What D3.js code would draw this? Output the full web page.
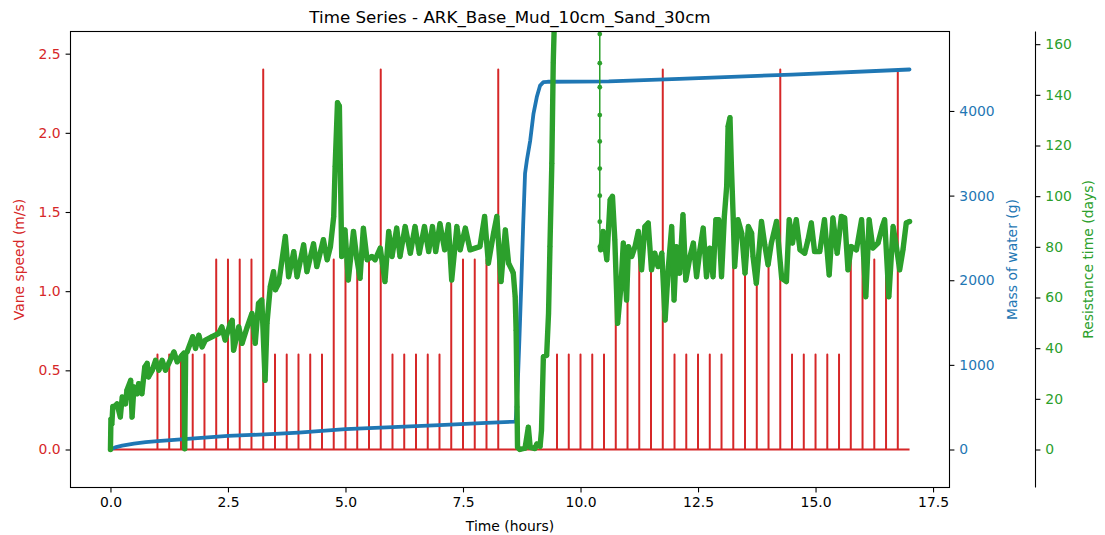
<!DOCTYPE html>
<html>
<head>
    <meta charset="utf-8">
    <title>Time Series - ARK_Base_Mud_10cm_Sand_30cm</title>
    <script type="text/javascript" src="https://cdn.jsdelivr.net/npm/d3@7"></script>
    <style type="text/css">
        body { margin: 0; background: #fff; }
        svg { font-family: "DejaVu Sans", sans-serif; }
    </style>
</head>
<body>
<script type="text/javascript">
    // vane speed: 0 baseline with short pulses every quarter hour
    var vaneTimes = [1.0, 1.25, 1.5, 1.75, 2.0, 2.25, 2.5, 2.75, 3.0, 3.25,
        3.5, 3.75, 4.0, 4.25, 4.5, 4.75, 5.0, 5.25, 5.5, 5.75,
        6.0, 6.25, 6.5, 6.75, 7.0, 7.25, 7.5, 7.75, 8.0, 8.25,
        9.5, 9.75, 10.0, 10.25, 10.5, 10.75, 11.0, 11.25, 11.5, 11.75,
        12.0, 12.25, 12.5, 12.75, 13.0, 13.25, 13.5, 13.75, 14.0, 14.25,
        14.5, 14.75, 15.0, 15.25, 15.5, 15.75, 16.0, 16.25, 16.5, 16.75];
    var vaneSpeeds = [0.6, 0.6, 0.6, 0.6, 0.6, 1.2, 1.2, 1.2, 1.2, 2.4,
        0.6, 0.6, 0.6, 0.6, 0.6, 1.2, 1.2, 1.2, 1.2, 2.4,
        0.6, 0.6, 0.6, 0.6, 0.6, 1.2, 1.2, 1.2, 1.2, 2.4,
        0.6, 0.6, 0.6, 0.6, 0.6, 1.2, 1.2, 1.2, 1.2, 2.4,
        0.6, 0.6, 0.6, 0.6, 0.6, 1.2, 1.2, 1.2, 1.2, 2.4,
        0.6, 0.6, 0.6, 0.6, 0.6, 1.2, 1.2, 1.2, 1.2, 2.4];
    var vaneStart = 0, vaneEnd = 17;

    // mass of water (g)
    var massTimes = [0, 0.1, 0.25, 0.5, 0.75, 1.0, 1.5, 2.0, 2.5, 3.0, 3.5, 4.0, 5.0, 6.0, 7.0, 8.0, 8.62,
        8.66, 8.7, 8.74, 8.78, 8.82, 8.86, 8.93, 9.0, 9.07, 9.14, 9.21, 9.3, 10.6, 12.1, 14.5, 17.0];
    var massValues = [0, 25, 45, 70, 88, 100, 120, 140, 160, 172, 185, 200, 240, 265, 288, 315, 330,
        700, 1300, 1950, 2650, 3260, 3420, 3650, 3970, 4165, 4300, 4340, 4345, 4350, 4380, 4430, 4490];

    // resistance time (days) [hours, days]
    var resistance = [
        [0, 0], [0.01, 12], [0.03, 10], [0.05, 17], [0.07, 16.7], [0.14, 18], [0.21, 12.8], [0.25, 20.7],
        [0.32, 18], [0.35, 23.4], [0.43, 27.3], [0.46, 12.8], [0.50, 24.7], [0.57, 22], [0.60, 26],
        [0.67, 22], [0.73, 32.6], [0.78, 34], [0.81, 28.6], [0.89, 31.3], [0.96, 35.2], [1.03, 31.3],
        [1.10, 35.2], [1.17, 31.3], [1.24, 34], [1.35, 38.5], [1.42, 34.6], [1.52, 37.2], [1.56, 38],
        [1.58, 0.3], [1.60, 38], [1.63, 38.5], [1.75, 44.5], [1.81, 39.9], [1.88, 45.1], [1.95, 40.5],
        [2.02, 43.2], [2.16, 44.5], [2.30, 45.8], [2.37, 48.4], [2.44, 43.2], [2.55, 49.8], [2.59, 51],
        [2.62, 39.2], [2.73, 48.4], [2.80, 41.9], [2.91, 48.4], [3.01, 53.7], [3.08, 41.9], [3.15, 57.7],
        [3.22, 59], [3.29, 27.3], [3.33, 49.8], [3.40, 64.3], [3.47, 70.2], [3.51, 63], [3.58, 65.6],
        [3.72, 84.1], [3.79, 68.2], [3.90, 78.1], [3.97, 68.2], [4.11, 80.8], [4.18, 70.2], [4.32, 81.2],
        [4.39, 72.2], [4.53, 82.8], [4.61, 74.9], [4.68, 80.1], [4.75, 92], [4.78, 111.8], [4.83, 136.9],
        [4.87, 135.6], [4.89, 111.8], [4.92, 76.2], [4.99, 86.7], [5.06, 66.9], [5.17, 86.1], [5.24, 75.5],
        [5.31, 67.6], [5.38, 87.4], [5.46, 74.9], [5.56, 76.2], [5.63, 74.9], [5.74, 79.5], [5.84, 66.3],
        [5.92, 86.1], [5.99, 76.2], [6.09, 87.4], [6.16, 76.2], [6.27, 88], [6.38, 77.5], [6.48, 88],
        [6.57, 77.5], [6.68, 88], [6.77, 78.1], [6.85, 88], [6.92, 78.1], [7.01, 89.1], [7.11, 78.8],
        [7.19, 88.7], [7.26, 66.9], [7.37, 88], [7.44, 78.8], [7.55, 87.4], [7.65, 78.8], [7.76, 79.5],
        [7.86, 80.1], [7.96, 92], [8.04, 73.5], [8.15, 85.4], [8.22, 92], [8.31, 66.3], [8.40, 86.7],
        [8.47, 73.5], [8.54, 70.9], [8.57, 69.6], [8.61, 60.3], [8.63, 47.1], [8.64, 33.9], [8.65, 16.8],
        [8.66, 0.9], [8.71, 0], [8.82, 0.5], [8.89, 8.8], [8.93, 0.8], [9.03, 0.4], [9.07, 2.2],
        [9.14, 1.2], [9.17, 7.5], [9.21, 36.6], [9.28, 37.2], [9.32, 53.7], [9.35, 80.1], [9.39, 113],
        [9.42, 152.7], [9.46, 180],
        [10.41, 180], [10.41, 164], [10.41, 152.5], [10.41, 143], [10.41, 132], [10.41, 121.6],
        [10.41, 110.9], [10.41, 100.2], [10.41, 89.9],
        [10.42, 80.1], [10.43, 78.8], [10.48, 86.1], [10.56, 74.9], [10.63, 98.6], [10.68, 99.9],
        [10.73, 82.8], [10.79, 49.8], [10.86, 64.3], [10.91, 81.5], [10.98, 59], [11.02, 80.1],
        [11.09, 76.2], [11.16, 80.1], [11.23, 86.1], [11.30, 70.9], [11.37, 88], [11.44, 89.4],
        [11.51, 70.9], [11.58, 77.5], [11.65, 72.2], [11.73, 77.5], [11.80, 51.1], [11.87, 72.2],
        [11.94, 88], [11.99, 59], [12.04, 80.1], [12.11, 69.6], [12.18, 92.7], [12.24, 66.9],
        [12.33, 76.2], [12.40, 81.5], [12.47, 68.2], [12.54, 78.8], [12.61, 87.4], [12.68, 68.2],
        [12.75, 79.5], [12.82, 68.2], [12.88, 90.7], [12.94, 90.7], [13.00, 68.2], [13.06, 92],
        [13.11, 103.9], [13.14, 127.6], [13.18, 131], [13.21, 111.8], [13.25, 90.7], [13.28, 72.2],
        [13.35, 90.7], [13.43, 85.4], [13.50, 69.6], [13.57, 88], [13.64, 85.4], [13.67, 76.2],
        [13.74, 65.6], [13.85, 90], [13.92, 80.8], [13.99, 72.9], [14.06, 81.5], [14.17, 90],
        [14.28, 67.6], [14.38, 66.3], [14.44, 90.7], [14.51, 81.5], [14.59, 90.7], [14.67, 78.8],
        [14.77, 77.5], [14.84, 82.8], [14.91, 89.4], [14.98, 78.1], [15.09, 78.1], [15.19, 90.7],
        [15.29, 68.9], [15.37, 91.4], [15.46, 77.5], [15.55, 92], [15.62, 91.4], [15.69, 70.9],
        [15.76, 80.1], [15.87, 78.8], [15.98, 90.7], [16.07, 60.3], [16.14, 90.7], [16.22, 79.5],
        [16.33, 81.5], [16.42, 88], [16.47, 90.7], [16.56, 60.3], [16.65, 88], [16.72, 80.1],
        [16.79, 70.9], [16.86, 78.8], [16.93, 89.4], [17.00, 90]
    ];
    var dropTime = 10.41; // points along the fall back onto the chart

    var xTicks = [0, 2.5, 5, 7.5, 10, 12.5, 15, 17.5];
    var vaneTicks = [0, 0.5, 1.0, 1.5, 2.0, 2.5];
    var massTicks = [0, 1000, 2000, 3000, 4000];
    var resTicks = [0, 20, 40, 60, 80, 100, 120, 140, 160];

    var red = "#d62728", blue = "#1f77b4", green = "#2ca02c";
    var width = 1105, height = 535;
    var plotL = 70.5, plotR = 949.5, plotT = 31.5, plotB = 487.5;
    var fs = 13.9, tickLen = 4.9, tickPad = 4.9;

    var svg = d3.select("body").append("svg")
        .attr("width", width).attr("height", height);

    var x = d3.scaleLinear().domain([-0.85, 17.85]).range([plotL, plotR]);
    var yVane = d3.scaleLinear().domain([-0.24, 2.64]).range([plotB, plotT]);
    var yMass = d3.scaleLinear().domain([-449, 4939]).range([plotB, plotT]);
    var yRes = d3.scaleLinear().domain([-15, 165]).range([plotB, plotT]);

    svg.append("clipPath").attr("id", "plot")
        .append("rect").attr("x", plotL).attr("y", plotT)
        .attr("width", plotR - plotL).attr("height", plotB - plotT);

    var plot = svg.append("g").attr("clip-path", "url(#plot)");

    // red vane speed line
    var vanePts = [[vaneStart, 0]];
    vaneTimes.forEach(function (t, i) {
        vanePts.push([t, 0], [t, vaneSpeeds[i]], [t, 0]);
    });
    vanePts.push([vaneEnd, 0]);
    plot.append("path")
        .attr("d", d3.line().x(function (d) {return x(d[0]);}).y(function (d) {return yVane(d[1]);})(vanePts))
        .attr("fill", "none").attr("stroke", red).attr("stroke-width", 2)
        .attr("stroke-linejoin", "round");

    // blue mass line
    var massPts = massTimes.map(function (t, i) {return [t, massValues[i]];});
    plot.append("path")
        .attr("d", d3.line().x(function (d) {return x(d[0]);}).y(function (d) {return yMass(d[1]);})(massPts))
        .attr("fill", "none").attr("stroke", blue).attr("stroke-width", 3.8)
        .attr("stroke-linejoin", "round").attr("stroke-linecap", "round");

    // green resistance line, dense part thick, markers on every point
    var resLine = d3.line().x(function (d) {return x(d[0]);}).y(function (d) {return yRes(d[1]);});
    plot.append("path")
        .attr("d", resLine(resistance))
        .attr("fill", "none").attr("stroke", green).attr("stroke-width", 1.5);
    plot.append("path")
        .attr("d", resLine.defined(function (d) {return d[0] !== dropTime;})(resistance))
        .attr("fill", "none").attr("stroke", green).attr("stroke-width", 5.4)
        .attr("stroke-linejoin", "round").attr("stroke-linecap", "round");
    plot.selectAll("circle.res").data(resistance).enter().append("circle")
        .attr("class", "res")
        .attr("cx", function (d) {return x(d[0]);})
        .attr("cy", function (d) {return yRes(d[1]);})
        .attr("r", 2.4).attr("fill", green);

    // axes
    function style(g, color) {
        g.select(".domain").remove();
        g.selectAll(".tick line").attr("stroke", "#000").attr("stroke-width", 1.1);
        g.selectAll(".tick text").attr("fill", color).style("font-size", fs + "px")
            .style("font-family", "DejaVu Sans");
    }

    svg.append("g").attr("transform", "translate(0," + plotB + ")")
        .call(d3.axisBottom(x).tickValues(xTicks).tickFormat(d3.format(".1f"))
            .tickSize(tickLen).tickPadding(tickPad))
        .call(style, "#000");

    svg.append("g").attr("transform", "translate(" + plotL + ",0)")
        .call(d3.axisLeft(yVane).tickValues(vaneTicks).tickFormat(d3.format(".1f"))
            .tickSize(tickLen).tickPadding(tickPad))
        .call(style, red);

    svg.append("g").attr("transform", "translate(" + plotR + ",0)")
        .call(d3.axisRight(yMass).tickValues(massTicks).tickFormat(d3.format("d"))
            .tickSize(tickLen).tickPadding(tickPad))
        .call(style, blue);

    var third = 1035.5;
    svg.append("g").attr("transform", "translate(" + third + ",0)")
        .call(d3.axisRight(yRes).tickValues(resTicks).tickFormat(d3.format("d"))
            .tickSize(tickLen).tickPadding(tickPad))
        .call(style, green);

    // spines
    svg.append("rect").attr("x", plotL).attr("y", plotT)
        .attr("width", plotR - plotL).attr("height", plotB - plotT)
        .attr("fill", "none").attr("stroke", "#000").attr("stroke-width", 1.1);
    svg.append("line").attr("x1", third).attr("x2", third).attr("y1", plotT).attr("y2", plotB)
        .attr("stroke", "#000").attr("stroke-width", 1.1);

    // labels
    var midY = (plotT + plotB) / 2;
    svg.append("text").attr("x", (plotL + plotR) / 2).attr("y", 23)
        .attr("text-anchor", "middle").style("font-size", "16.7px")
        .text("Time Series - ARK_Base_Mud_10cm_Sand_30cm");
    svg.append("text").attr("x", (plotL + plotR) / 2).attr("y", 531)
        .attr("text-anchor", "middle").style("font-size", fs + "px")
        .text("Time (hours)");
    svg.append("text").attr("transform", "translate(19," + midY + ") rotate(-90)")
        .attr("dy", "0.35em").attr("text-anchor", "middle").attr("fill", red)
        .style("font-size", fs + "px").text("Vane speed (m/s)");
    svg.append("text").attr("transform", "translate(1012," + midY + ") rotate(-90)")
        .attr("dy", "0.35em").attr("text-anchor", "middle").attr("fill", blue)
        .style("font-size", fs + "px").text("Mass of water (g)");
    svg.append("text").attr("transform", "translate(1088," + midY + ") rotate(-90)")
        .attr("dy", "0.35em").attr("text-anchor", "middle").attr("fill", green)
        .style("font-size", fs + "px").text("Resistance time (days)");
</script>
</body>
</html>
